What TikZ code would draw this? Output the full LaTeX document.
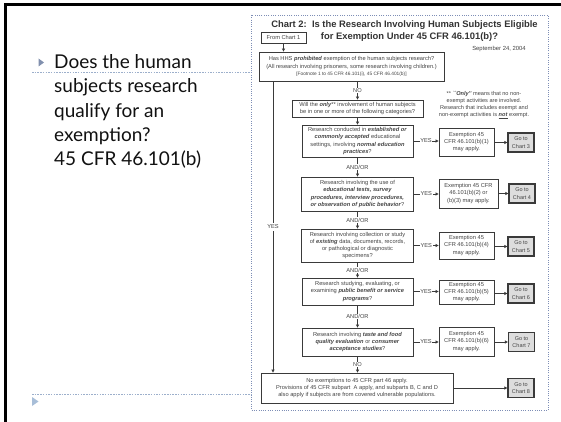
\documentclass[tikz,border=0pt]{standalone}
\usepackage{fontspec}
\setmainfont{Lato}
\newfontfamily\chartfont{Liberation Sans}
\usetikzlibrary{arrows.meta}
\definecolor{linec}{HTML}{3A3A3A}
\definecolor{txtc}{HTML}{444444}
\definecolor{slidetxt}{HTML}{111111}
\definecolor{bulletc}{HTML}{8190AE}
\definecolor{bullet2}{HTML}{A8BED8}
\definecolor{dashc}{HTML}{9CAFCB}
\definecolor{borderc}{HTML}{7E8EB6}
\definecolor{gofill}{HTML}{DDDDDD}
\newcommand\mybi[1]{\textbf{\textit{#1}}}
\tikzset{
  chbox/.style={draw=linec, line width=0.8pt, fill=white, text=txtc, align=center,
    inner sep=0pt, font=\chartfont\fontsize{5.7}{7.3}\selectfont},
  gobox/.style={draw=linec, line width=1.3pt, fill=gofill, text=txtc, align=center,
    inner sep=0pt, minimum width=26, minimum height=19, font=\chartfont\fontsize{5.5}{7.3}\selectfont},
  conn/.style={draw=linec, line width=0.7pt, -{Triangle[length=3pt,width=3pt]}},
  lbl/.style={fill=white, inner sep=0.6pt, text=txtc, font=\chartfont\fontsize{5.7}{6}\selectfont},
  slideline/.style={anchor=base west, inner sep=0pt, text=slidetxt, font=\fontsize{19}{24}\selectfont},
  titletxt/.style={inner sep=0pt, text=black!80, font=\chartfont\bfseries\fontsize{9.4}{10}\selectfont},
}
\begin{document}
\begin{tikzpicture}[x=1pt,y=-1pt]
\useasboundingbox (0,0) rectangle (561,422);
\fill[white] (0,0) rectangle (561,422);
% slide frame
\draw[black, line width=2.7pt] (4,4.5) -- (561,4.5);
\draw[black, line width=2.5pt] (5.3,3.2) -- (5.3,422);
% slide text
\fill[bulletc] (38.5,58.5) -- (38.5,66.5) -- (44,62.5) -- cycle;
\node[slideline] (l1) at (54,68.3) {Does the human};
\node[slideline] (l2) at (54,92.7) {subjects research};
\node[slideline] (l3) at (54,117.1) {qualify for an};
\node[slideline] (l4) at (54,141.5) {exemption?};
\node[slideline] (l5) at (54,165.9) {45 CFR 46.101(b)};
\draw[dashc, line width=0.7pt, dash pattern=on 1.5pt off 1.2pt] (32,72.5) -- (251,72.5);
\draw[dashc, line width=0.7pt, dash pattern=on 1.5pt off 1.2pt] (32,394.5) -- (251,394.5);
\fill[bullet2] (32,397) -- (32,406) -- (38.5,401.5) -- cycle;
% chart border
\draw[borderc, line width=0.9pt, dash pattern=on 1pt off 1.3pt] (251.5,15) rectangle (548,410.5);
% title
\node[titletxt] (t1) at (404.5,25) {Chart 2:\ \ Is the Research Involving Human Subjects Eligible};
\node[titletxt] (t2) at (409.5,37.5) {for Exemption Under 45 CFR 46.101(b)?};
\node[inner sep=0pt, text=txtc, font=\chartfont\fontsize{5.9}{6}\selectfont] (date) at (499,49) {September 24, 2004};
% boxes
\node[chbox, minimum width=45, minimum height=11] (from) at (283.5,37.5) {From Chart 1};
\node[chbox, minimum width=185, minimum height=29] (A) at (351.5,66.5) {Has HHS \mybi{prohibited} exemption of the human subjects research?\\(All research involving prisoners, some research involving children.)\\{\fontsize{4.8}{6}\selectfont[Footnote 1 to 45 CFR 46.101(i), 45 CFR 46.401(b)]}};
\node[chbox, minimum width=131, minimum height=17] (B) at (357.5,108.5) {Will the \mybi{only}** involvement of human subjects\\be in one or more of the following categories?};
\node[inner sep=0pt, align=center, text=txtc, font=\chartfont\fontsize{5.6}{7.3}\selectfont] (note) at (484,105) {** \mybi{``Only''} means that no non-\\exempt activities are involved.\\Research that includes exempt and\\non-exempt activities is \underline{\mybi{not}} exempt.};
\node[chbox, minimum width=111, minimum height=32] (R1) at (357.5,141) {Research conducted in \mybi{established or}\\\mybi{commonly accepted} educational\\settings, involving \mybi{normal education}\\\mybi{practices}?};
\node[chbox, minimum width=55, minimum height=28] (E1) at (466.5,142) {Exemption 45\\CFR 46.101(b)(1)\\may apply.};
\node[gobox] (G1) at (521,142.5) {Go to\\Chart 3};
\node[chbox, minimum width=112, minimum height=34] (R2) at (357.5,194) {Research involving the use of\\\mybi{educational tests, survey}\\\mybi{procedures, interview procedures,}\\\mybi{or observation of public behavior}?};
\node[chbox, minimum width=59, minimum height=29] (E2) at (468.5,193.5) {Exemption 45 CFR\\46.101(b)(2) or\\(b)(3) may apply.};
\node[gobox] (G2) at (522,193.5) {Go to\\Chart 4};
\node[chbox, minimum width=112, minimum height=33] (R3) at (357.5,245.5) {Research involving collection or study\\of \mybi{existing} data, documents, records,\\or pathological or diagnostic\\specimens?};
\node[chbox, minimum width=55, minimum height=27] (E3) at (466.5,245.5) {Exemption 45\\CFR 46.101(b)(4)\\may apply.};
\node[gobox] (G3) at (521,246.5) {Go to\\Chart 5};
\node[chbox, minimum width=111, minimum height=27] (R4) at (357.5,291.5) {Research studying, evaluating, or\\examining \mybi{public benefit or service}\\\mybi{programs}?};
\node[chbox, minimum width=55, minimum height=24] (E4) at (466.5,292) {Exemption 45\\CFR 46.101(b)(5)\\may apply.};
\node[gobox] (G4) at (521,293.5) {Go to\\Chart 6};
\node[chbox, minimum width=111, minimum height=28] (R5) at (357.5,342) {Research involving \mybi{taste and food}\\\mybi{quality evaluation} or \mybi{consumer}\\\mybi{acceptance studies}?};
\node[chbox, minimum width=55, minimum height=29] (E5) at (466.5,341.5) {Exemption 45\\CFR 46.101(b)(6)\\may apply.};
\node[gobox] (G5) at (521.5,342) {Go to\\Chart 7};
\node[chbox, minimum width=192, minimum height=30] (F) at (357,388) {No exemptions to 45 CFR part 46 apply.\\Provisions of 45 CFR subpart\ \ A apply, and subparts B, C and D\\also apply if subjects are from covered vulnerable populations.};
\node[gobox] (G6) at (521,388) {Go to\\Chart 8};
% connectors
\coordinate (yx) at (273,0);
\draw[conn] (from.south) -- (from.south |- A.north);
\draw[conn] (A.south -| B.north) -- node[lbl]{NO} (B.north);
\draw[conn] (B.south) -- (R1.north);
\draw[conn] (R1.south) -- node[lbl]{AND/OR} (R2.north);
\draw[conn] (R2.south) -- node[lbl]{AND/OR} (R3.north);
\draw[conn] (R3.south) -- node[lbl]{AND/OR} (R4.north);
\draw[conn] (R4.south) -- node[lbl]{AND/OR} (R5.north);
\draw[conn] (R5.south) -- node[lbl]{NO} (R5.south |- F.north);
\draw[conn] (A.south -| yx) -- node[lbl, inner ysep=2pt]{YES} (F.north -| yx);
\draw[conn] (R1.east) -- node[lbl]{YES} (R1.east -| E1.west);
\draw[conn] (R2.east) -- node[lbl]{YES} (R2.east -| E2.west);
\draw[conn] (R3.east) -- node[lbl]{YES} (R3.east -| E3.west);
\draw[conn] (R4.east) -- node[lbl]{YES} (R4.east -| E4.west);
\draw[conn] (R5.east) -- node[lbl]{YES} (R5.east -| E5.west);
\draw[conn] (E1.east |- G1.west) -- (G1.west);
\draw[conn] (E2.east |- G2.west) -- (G2.west);
\draw[conn] (E3.east |- G3.west) -- (G3.west);
\draw[conn] (E4.east |- G4.west) -- (G4.west);
\draw[conn] (E5.east |- G5.west) -- (G5.west);
\draw[conn] (F.east |- G6.west) -- (G6.west);
\end{tikzpicture}
\end{document}
